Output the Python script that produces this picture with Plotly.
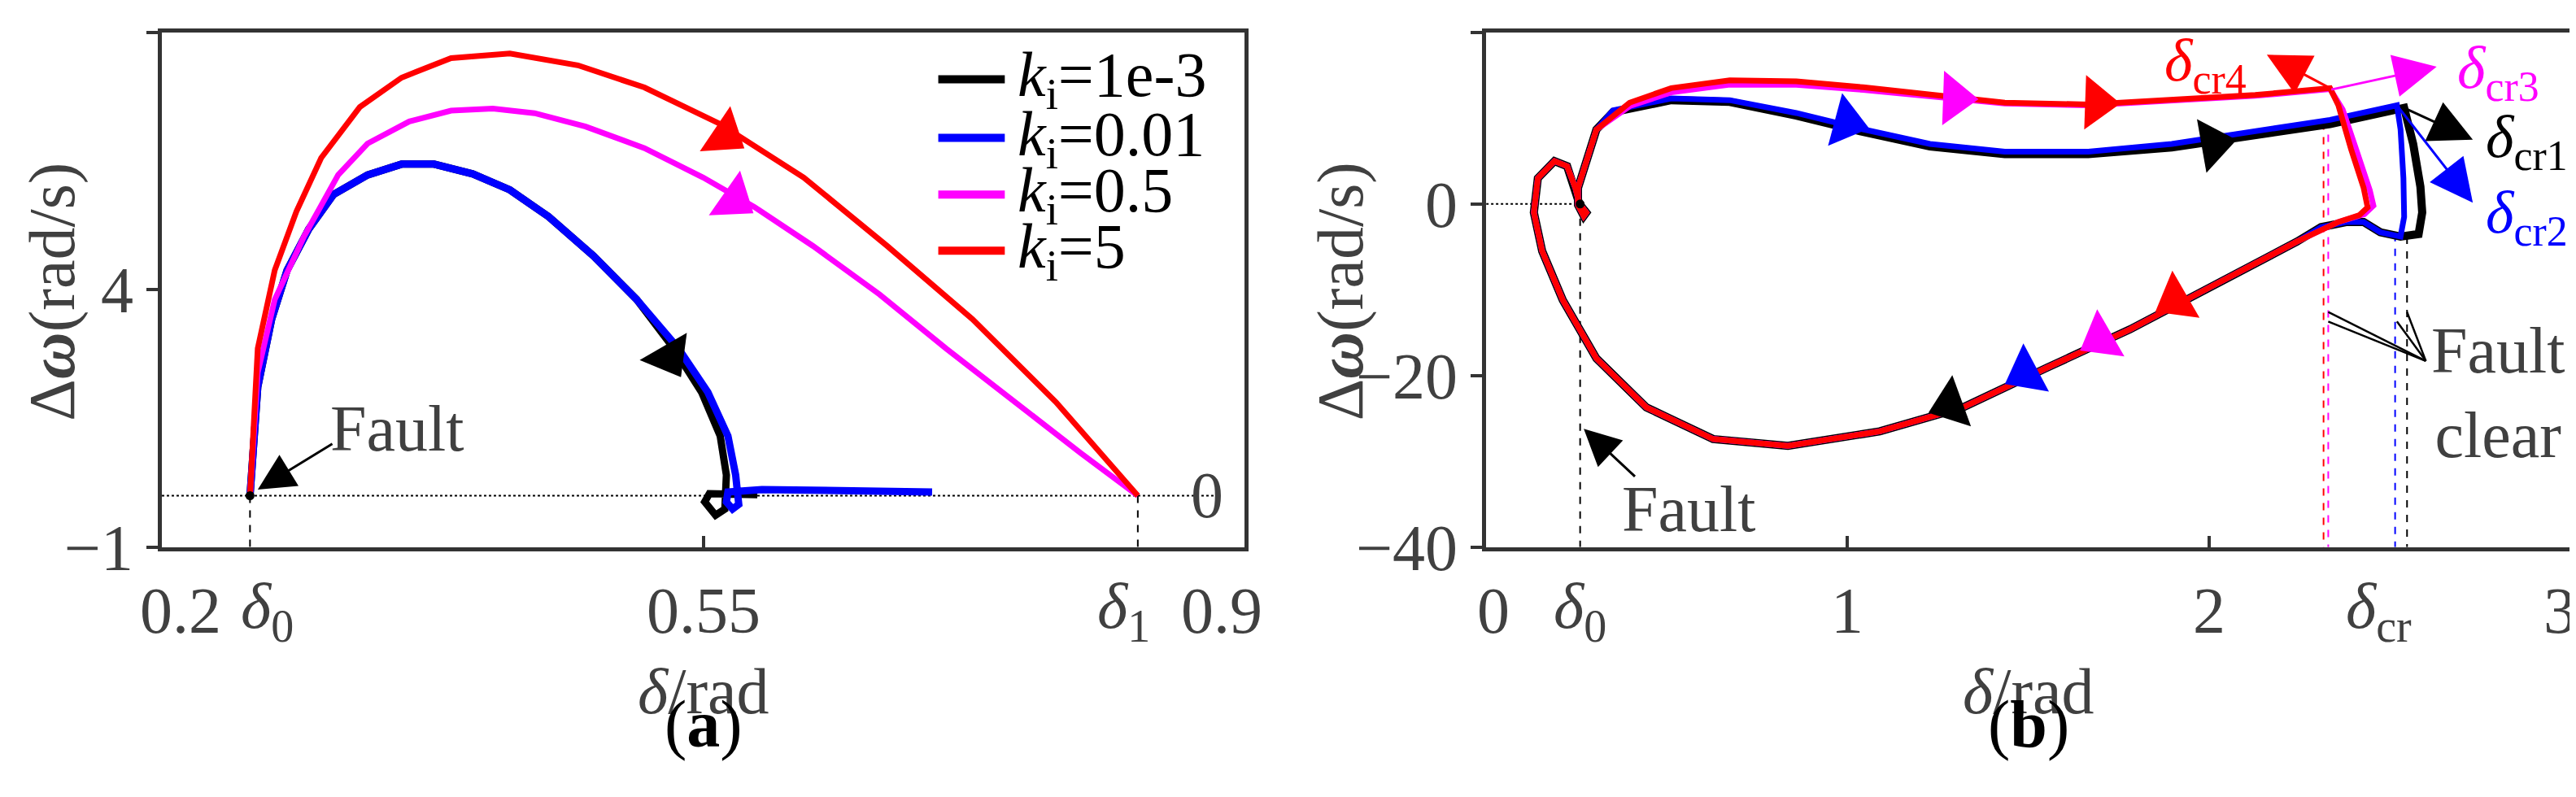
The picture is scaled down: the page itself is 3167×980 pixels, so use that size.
import plotly.graph_objects as go

FONT = "Liberation Serif"
GRAY = "#404040"
RED, MAG, BLUE, BLK = "#ff0000", "#ff00ff", "#0000ff", "#000000"

# ---- panel (a) data ----
a_red_x = [0.257,0.262,0.273,0.287,0.303,0.328,0.355,0.387,0.425,0.469,0.512,0.561,0.615,0.669,0.724,0.778,0.831]
a_red_y = [0,2.86,4.38,5.52,6.56,7.55,8.12,8.50,8.59,8.36,7.93,7.22,6.18,4.85,3.43,1.82,0]
a_mag_x = [0.257,0.262,0.273,0.292,0.314,0.333,0.360,0.387,0.414,0.441,0.474,0.512,0.550,0.583,0.621,0.664,0.707,0.751,0.794,0.831]
a_mag_y = [0,2.39,3.81,5.04,6.23,6.84,7.27,7.48,7.52,7.43,7.17,6.75,6.18,5.61,4.85,3.91,2.86,1.82,0.83,0]
a_blue_x = [0.257,0.262,0.271,0.281,0.295,0.311,0.333,0.355,0.376,0.401,0.425,0.450,0.479,0.507,0.534,0.553,0.566,0.571,0.573,0.569,0.565,0.566,0.588,0.642,0.698]
a_blue_y = [0,2.11,3.43,4.38,5.18,5.85,6.23,6.44,6.44,6.25,5.94,5.42,4.66,3.81,2.86,2.01,1.16,0.40,-0.17,-0.26,-0.12,0.07,0.12,0.10,0.07]
a_blk_x = [0.257,0.262,0.271,0.281,0.295,0.311,0.333,0.355,0.376,0.401,0.425,0.450,0.479,0.507,0.531,0.549,0.561,0.565,0.564,0.558,0.551,0.554,0.585]
a_blk_y = [0,2.11,3.43,4.38,5.18,5.85,6.23,6.44,6.44,6.25,5.94,5.42,4.66,3.81,2.86,2.01,1.16,0.40,-0.26,-0.38,-0.12,0.04,0.02]
a_arrow_x = [0.564, 0.570, 0.528]
a_arrow_y = [7.0, 5.75, 2.7]
a_arrow_ang = [124, 125, 150]
a_arrow_col = [RED, MAG, BLK]
delta0_a, delta1_a = 0.257, 0.831

# ---- panel (b) data ----
b_start_x = [0.258,0.277,0.270,0.254,0.254,0.270,0.305]
b_start_y = [0,-1.0,-1.4,-0.1,1.85,4.1,8.66]
b_red_up_x = [0.397,0.512,0.674,0.858,1.043,1.228,1.435,1.666,1.897,2.128,2.335,2.358,2.393,2.428,2.439,2.416,2.358]
b_red_up_y = [11.8,13.5,14.4,14.3,13.6,12.7,11.8,11.6,12.1,12.7,13.5,11.5,6.4,1.85,-0.4,-1.3,-2.1]
b_mag_up_x = [0.397,0.512,0.674,0.858,1.043,1.228,1.435,1.666,1.897,2.128,2.335,2.37,2.41,2.445,2.455,2.43,2.358]
b_mag_up_y = [11.4,13.0,13.9,13.9,13.3,12.5,11.7,11.5,12.0,12.6,13.4,11.0,6.0,1.6,-0.2,-1.2,-2.1]
b_blue_up_x = [0.351,0.512,0.674,0.858,1.043,1.228,1.435,1.666,1.897,2.128,2.335,2.52,2.53,2.538,2.54,2.53,2.474,2.428,2.382,2.31]
b_blue_up_y = [10.9,12.3,12.1,10.6,8.7,7.0,6.1,6.1,7.0,8.4,9.8,11.5,8.7,3.0,-1.5,-3.8,-3.3,-2.1,-2.1,-2.7]
b_blk_up_x = [0.351,0.512,0.674,0.858,1.043,1.228,1.435,1.666,1.897,2.128,2.335,2.54,2.565,2.585,2.59,2.58,2.53,2.474,2.428,2.382,2.31]
b_blk_up_y = [10.7,12.1,11.9,10.3,8.4,6.7,5.8,5.8,6.6,8.0,9.3,11.2,7.0,2.0,-1.0,-3.5,-3.8,-3.3,-2.1,-2.1,-2.7]
b_low_x = [2.243,2.012,1.782,1.551,1.32,1.089,0.835,0.628,0.443,0.305,0.212,0.155,0.132,0.143,0.189,0.224,0.247,0.258]
b_low_y = [-4.4,-9.5,-14.6,-19.1,-23.7,-26.5,-28.2,-27.4,-23.7,-18.0,-11.2,-5.5,-1.0,3.0,5.0,4.4,1.85,0]
b_arrow_x = [1.297,1.69,0.997,2.012,1.908,1.70,1.493,1.285]
b_arrow_y = [12.3,11.8,9.5,7.0,-11.2,-15.7,-19.7,-23.4]
b_arrow_ang = [92,92,105,80,240,240,242,250]
b_arrow_col = [MAG,RED,BLUE,BLK,RED,MAG,BLUE,BLK]
delta0_b = 0.26
b_clear_x = [2.317,2.33,2.515,2.548]
b_clear_top = [9.5,9.8,-3.5,-3.8]
b_clear_col = [RED,MAG,BLUE,BLK]

legend_labels = ["1e-3","0.01","0.5","5"]
legend_cols = [BLK,BLUE,MAG,RED]
legend_y = [8.09,6.95,5.85,4.76]

fig = go.Figure()
def line(x,y,c,w,ax,dash="solid"):
    fig.add_trace(go.Scatter(x=x,y=y,mode="lines",line=dict(color=c,width=w,dash=dash),
                             xaxis="x"+ax, yaxis="y"+ax, showlegend=False, hoverinfo="skip"))

# panel a
line([0.2,0.88],[0,0],BLK,2,"","dot")
for d in (delta0_a, delta1_a):
    line([d,d],[0,-1],BLK,2,"","dash")
line(a_blk_x,a_blk_y,BLK,9,"")
line(a_blue_x,a_blue_y,BLUE,9,"")
line(a_mag_x,a_mag_y,MAG,7,"")
line(a_red_x,a_red_y,RED,7,"")
fig.add_trace(go.Scatter(x=[delta0_a],y=[0],mode="markers",marker=dict(color=BLK,size=11),showlegend=False))
fig.add_trace(go.Scatter(x=a_arrow_x,y=a_arrow_y,mode="markers",showlegend=False,
    marker=dict(symbol="triangle-up",size=58,angle=a_arrow_ang,color=a_arrow_col,line=dict(width=0))))
for lab,c,yy in zip(legend_labels,legend_cols,legend_y):
    line([0.702,0.745],[yy,yy],c,10,"")
    fig.add_annotation(x=0.752,y=yy,xref="x",yref="y",text="<i>k</i><sub>i</sub>="+lab,
        showarrow=False,xanchor="left",font=dict(family=FONT,size=78,color=BLK))

# panel b
line([0,delta0_b],[0,0],BLK,2,"2","dot")
line([delta0_b,delta0_b],[0,-40],BLK,2,"2","dash")
for xx,tp,c in zip(b_clear_x,b_clear_top,b_clear_col):
    line([xx,xx],[tp,-40],c,2,"2","dash")
line(b_start_x+b_blk_up_x+b_low_x, b_start_y+b_blk_up_y+b_low_y, BLK,10,"2")
line(b_start_x+b_blue_up_x+b_low_x, b_start_y+b_blue_up_y+b_low_y, BLUE,7,"2")
line(b_start_x+b_mag_up_x+b_low_x, b_start_y+b_mag_up_y+b_low_y, MAG,7,"2")
line(b_start_x+b_red_up_x+b_low_x, b_start_y+b_red_up_y+b_low_y, RED,7,"2")
fig.add_trace(go.Scatter(x=[delta0_b],y=[0],mode="markers",marker=dict(color=BLK,size=11),
    xaxis="x2",yaxis="y2",showlegend=False))
fig.add_trace(go.Scatter(x=b_arrow_x,y=b_arrow_y,mode="markers",showlegend=False,xaxis="x2",yaxis="y2",
    marker=dict(symbol="triangle-up",size=58,angle=b_arrow_ang,color=b_arrow_col,line=dict(width=0))))
for (x0,y0,x1,y1) in [(2.60,-18.3,2.33,-12.6),(2.60,-18.3,2.33,-13.7),(2.60,-18.3,2.52,-13.7),(2.60,-18.3,2.548,-12.6)]:
    line([x0,x1],[y0,y1],BLK,2.5,"2")

def arr(x,y,ax_,ay_,c,xr,yr,w=2,hs=1):
    fig.add_annotation(x=x,y=y,ax=ax_,ay=ay_,xref=xr,yref=yr,axref=xr,ayref=yr,text="",
        showarrow=True,arrowhead=2,arrowsize=hs,arrowwidth=w,arrowcolor=c)

arr(0.262,0.12,0.311,1.02,BLK,"x","y",3,3)
arr(0.27,-26.2,0.415,-31.9,BLK,"x2","y2",3,3)
arr(2.16,17.4,2.335,13.5,RED,"x2","y2",3,3.5)
arr(2.63,16.0,2.335,13.3,MAG,"x2","y2",3,3.5)
arr(2.73,7.5,2.54,11.2,BLK,"x2","y2",3,3.5)
arr(2.73,0.15,2.52,11.5,BLUE,"x2","y2",3,3.5)

def txt(x,y,s,xr,yr,col=GRAY,size=80,**kw):
    fig.add_annotation(x=x,y=y,xref=xr,yref=yr,text=s,showarrow=False,
        font=dict(family=FONT,size=size,color=col),**kw)

txt(0.352,1.3,"Fault","x","y")
txt(0.56,-35.6,"Fault","x2","y2")
txt(2.80,-22,"Fault<br>clear","x2","y2")
txt(1.99,16.2,"<i>δ</i><sub>cr4</sub>","x2","y2",RED,74)
txt(2.80,15.4,"<i>δ</i><sub>cr3</sub>","x2","y2",MAG,74)
txt(2.88,7.3,"<i>δ</i><sub>cr1</sub>","x2","y2",BLK,74)
txt(2.88,-1.5,"<i>δ</i><sub>cr2</sub>","x2","y2",BLUE,74)

ty = 0.205
for xv,s in [(0.212,"0.2"),(0.55,"0.55"),(0.885,"0.9"),(0.268,"<i>δ</i><sub>0</sub>"),(0.822,"<i>δ</i><sub>1</sub>")]:
    txt(xv,ty,s,"x","paper",xanchor="center",yanchor="middle")
for xv,s in [(0.02,"0"),(1,"1"),(2,"2"),(2.97,"3"),(0.26,"<i>δ</i><sub>0</sub>"),(2.47,"<i>δ</i><sub>cr</sub>")]:
    txt(xv,ty,s,"x2","paper",xanchor="center",yanchor="middle")
txt(0.55,0.10,"<i>δ</i>/rad","x","paper",yanchor="middle")
txt(1.5,0.10,"<i>δ</i>/rad","x2","paper",yanchor="middle")
txt(0.55,0.005,"(<b>a</b>)","x","paper",BLK,82,yanchor="bottom")
txt(1.5,0.005,"(<b>b</b>)","x2","paper",BLK,82,yanchor="bottom")
txt(0.018,0.625,"Δ<b><i>ω</i></b>(rad/s)","paper","paper",textangle=-90,xanchor="center",yanchor="middle")
txt(0.518,0.625,"Δ<b><i>ω</i></b>(rad/s)","paper","paper",textangle=-90,xanchor="center",yanchor="middle")
txt(0.466,0,"0","paper","y",xanchor="center")

ax = dict(showgrid=False,zeroline=False,showline=True,linecolor="#333",linewidth=5,mirror=True,
          tickfont=dict(family=FONT,size=80,color=GRAY),ticklen=14,tickwidth=4,tickcolor="#333")
fig.update_layout(
    width=3167,height=980,margin=dict(l=0,r=0,t=0,b=0),
    paper_bgcolor="white",plot_bgcolor="white",
    xaxis=dict(ax,domain=[0.0603,0.4806],range=[0.2,0.9],tickvals=[0.55],ticks="inside",showticklabels=False),
    yaxis=dict(ax,domain=[0.289,0.966],range=[-1,9],tickvals=[-1,4,9],ticks="outside"),
    xaxis2=dict(ax,domain=[0.5744,0.9953],range=[0,3],tickvals=[1,2],ticks="inside",showticklabels=False,anchor="y2"),
    yaxis2=dict(ax,domain=[0.289,0.966],range=[-40,20],tickvals=[-40,-20,0,20],ticks="outside",anchor="x2"),
)
fig.write_html("out.html")
